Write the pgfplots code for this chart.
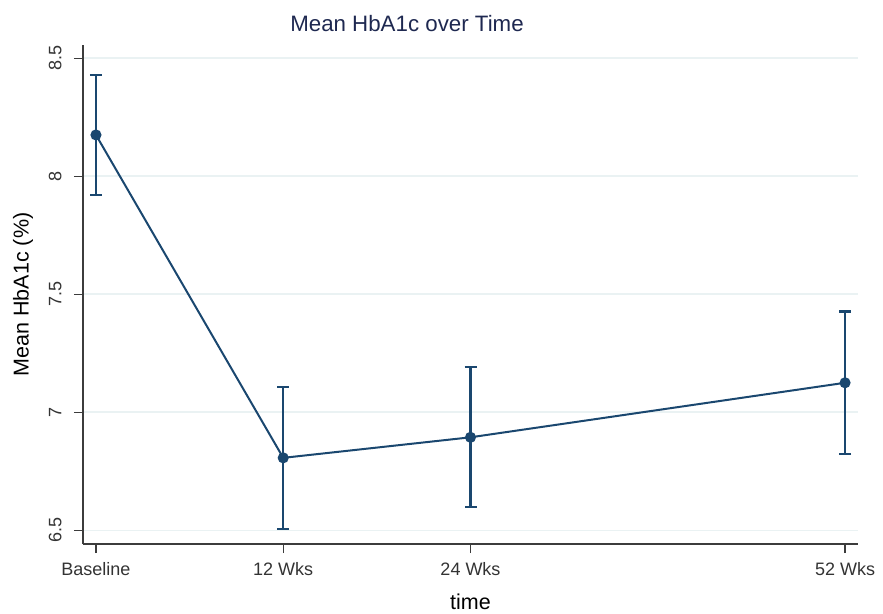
\documentclass[border=0pt]{standalone}
\usepackage{fontspec}
\setmainfont{Liberation Sans}
\usepackage{pgfplots}
\pgfplotsset{compat=1.18}
\definecolor{stnavy}{RGB}{26,71,111}
\definecolor{gridc}{RGB}{234,242,243}
\definecolor{titlec}{RGB}{30,40,80}
\definecolor{axc}{RGB}{60,60,60}
\begin{document}
\begin{tikzpicture}[x=1pt,y=1pt]
\useasboundingbox (0,0) rectangle (883,613);
\begin{axis}[
  at={(83pt,69pt)}, anchor=south west,
  scale only axis, width=775pt, height=499pt,
  xmin=-0.83, xmax=48.83, ymin=6.442, ymax=8.556,
  axis lines=left, axis line style={-, axc, line width=1.2pt},
  xtick={0,12,24,48}, xticklabels={Baseline,12 Wks,24 Wks,52 Wks},
  ytick={6.5,7,7.5,8,8.5}, yticklabels={6.5,7,7.5,8,8.5},
  tick align=outside, major tick length=9pt,
  tick style={axc, line width=1.2pt},
  ymajorgrids, major grid style={gridc, line width=1.6pt},
  /pgf/number format/assume math mode=true,
  tick label style={font=\fontsize{18}{21}\selectfont, text=black!80},
  yticklabel style={xshift=-9pt, rotate=90, anchor=south},
  xticklabel style={yshift=-6pt},
  xlabel={time}, ylabel={Mean HbA1c (\%)},
  label style={font=\fontsize{21.5}{25}\selectfont, text=black},
  xlabel style={at={(axis description cs:0.5,-0.132)}, anchor=base},
  ylabel style={at={(axis description cs:-0.0774,0.5)}, anchor=center},
]
\addplot[stnavy, line width=2pt, mark=*, mark size=4.5pt, mark options={fill=stnavy, solid},
  error bars/.cd, y dir=both, y explicit,
  error bar style={line width=2.1pt, stnavy},
  error mark options={rotate=90, mark size=6pt, line width=2.1pt, stnavy}]
  coordinates {
    (0,8.175) +- (0,0.255)
    (12,6.807) +- (0,0.302)
    (24,6.894) +- (0,0.296)
    (48,7.125) +- (0,0.302)
  };
\end{axis}
\node[font=\fontsize{22.3}{26}\selectfont, text=titlec] at (407,589) {Mean HbA1c over Time};
\end{tikzpicture}
\end{document}
